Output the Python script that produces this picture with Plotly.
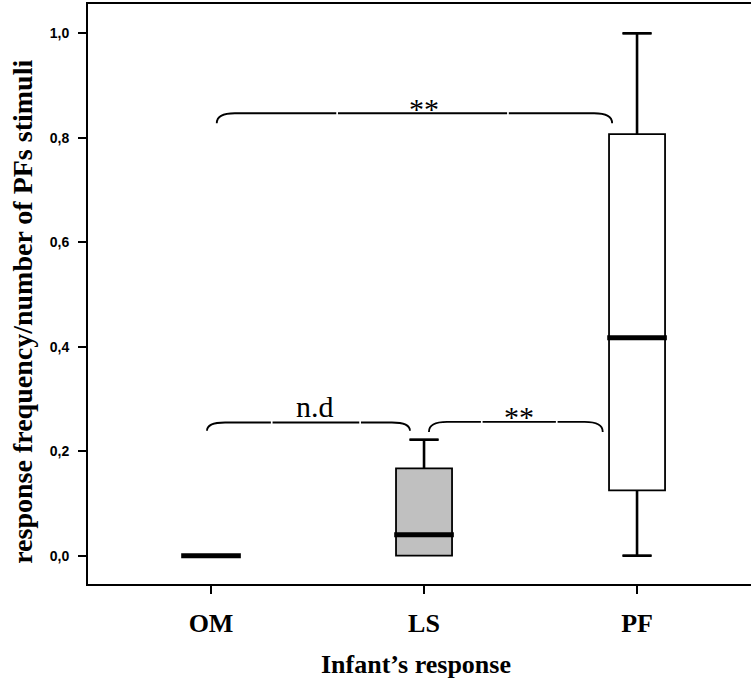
import plotly.graph_objects as go

# Infant's response categories and box statistics (proportion of PF stimuli)
categories = ["OM", "LS", "PF"]
lower_fence = [0.0, 0.0, 0.0]
q1 = [0.0, 0.0, 0.125]
median = [0.0, 0.04, 0.417]
q3 = [0.0, 0.167, 0.807]
upper_fence = [0.0, 0.222, 1.0]
box_fill = ["white", "#c0c0c0", "white"]

y_ticks = [0.0, 0.2, 0.4, 0.6, 0.8, 1.0]

# Significance brackets: start, end, tip level, bar level, label, label position
brackets = [
    dict(x0=0.027, x1=1.883, tip=0.828, bar=0.847, gaps=[0.592, 1.394],
         label="**", lx=1.0, ly=0.857),
    dict(x0=-0.019, x1=0.934, tip=0.239, bar=0.255, gaps=[0.285, 0.700],
         label="n.d", lx=0.49, ly=0.286),
    dict(x0=1.023, x1=1.839, tip=0.237, bar=0.256, gaps=[1.271, 1.623],
         label="**", lx=1.446, ly=0.267),
]

BOX_W = 0.263
CAP_HALF = 0.068
MED_HALF = 0.14
CURVE = 0.085
GAP = 0.004

fig = go.Figure()

for i, name in enumerate(categories):
    fig.add_trace(go.Box(
        x=[i], q1=[q1[i]], median=[median[i]], q3=[q3[i]],
        lowerfence=[lower_fence[i]], upperfence=[upper_fence[i]],
        width=BOX_W, whiskerwidth=0.52, boxpoints=False,
        fillcolor=box_fill[i], line=dict(color="black", width=1.8),
        name=name, showlegend=False, hoverinfo="skip",
    ))

# heavier whiskers and caps on top of the boxes
for i in range(len(categories)):
    for fence, edge in ((upper_fence[i], q3[i]), (lower_fence[i], q1[i])):
        if fence != edge:
            fig.add_trace(go.Scatter(
                x=[i, i, None, i - CAP_HALF, i + CAP_HALF],
                y=[edge, fence, None, fence, fence],
                mode="lines", line=dict(color="black", width=2.6),
                showlegend=False, hoverinfo="skip",
            ))

# thick median bars
for i in range(len(categories)):
    fig.add_trace(go.Scatter(
        x=[i - MED_HALF, i + MED_HALF], y=[median[i], median[i]],
        mode="lines", line=dict(color="black", width=5),
        showlegend=False, hoverinfo="skip",
    ))

for b in brackets:
    x0, x1, tip, bar = b["x0"], b["x1"], b["tip"], b["bar"]
    g1, g2 = b["gaps"]
    path = (
        f"M {x0},{tip} Q {x0},{bar} {x0 + CURVE},{bar} L {g1 - GAP},{bar} "
        f"M {g1 + GAP},{bar} L {g2 - GAP},{bar} "
        f"M {g2 + GAP},{bar} L {x1 - CURVE},{bar} Q {x1},{bar} {x1},{tip}"
    )
    fig.add_shape(type="path", path=path, xref="x", yref="y",
                  line=dict(color="black", width=1.8))
    fig.add_annotation(x=b["lx"], y=b["ly"], xref="x", yref="y",
                       text=b["label"], showarrow=False, yanchor="middle",
                       font=dict(family="Liberation Serif", size=30, color="black"))

# axis titles
fig.add_annotation(x=0.4947, xref="paper", y=0, yref="paper", showarrow=False,
                   text="<b>Infant’s response</b>", xanchor="center", yanchor="middle",
                   font=dict(family="Liberation Serif", size=26, color="black"),
                   yshift=-80)
fig.add_annotation(x=-0.0989, xref="paper", y=0.470, yref="paper", showarrow=False,
                   text="<b>response frequency/number of PFs stimuli</b>",
                   textangle=-90, xanchor="center", yanchor="middle",
                   font=dict(family="Liberation Serif", size=28, color="black"))

fig.update_layout(
    width=751, height=690, autosize=False,
    margin=dict(l=88, r=0, t=4, b=106),
    plot_bgcolor="white", paper_bgcolor="white",
    xaxis=dict(
        range=[-0.5775, 2.535], tickvals=list(range(len(categories))),
        ticktext=[f"<b>{c}</b>" for c in categories],
        showgrid=False, zeroline=False,
        showline=True, linecolor="black", linewidth=2, mirror=True,
        ticks="outside", ticklen=8, tickwidth=2, tickcolor="black",
        ticklabelstandoff=7,
        tickfont=dict(family="Liberation Serif", size=26, color="black"),
    ),
    yaxis=dict(
        range=[-0.0542, 1.0561], tickvals=y_ticks,
        ticktext=[f"<b>{v:.1f}</b>".replace(".", ",") for v in y_ticks],
        showgrid=False, zeroline=False,
        showline=True, linecolor="black", linewidth=2,
        ticks="outside", ticklen=8, tickwidth=2, tickcolor="black",
        ticklabelstandoff=6,
        tickfont=dict(family="Liberation Sans", size=14, color="black"),
    ),
)

fig.write_html("out.html")
